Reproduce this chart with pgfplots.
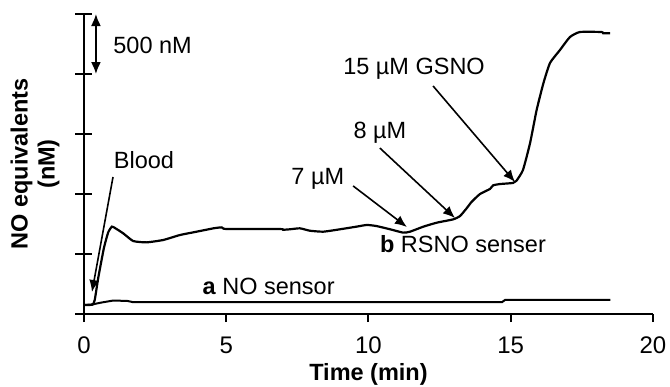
\documentclass[border=0pt]{standalone}
\usepackage{fontspec}
\setmainfont{Liberation Sans}
\usepackage{pgfplots}
\pgfplotsset{compat=1.18}
\usetikzlibrary{arrows.meta}
\pgfplotstableread{
x y
0 75
0.30 78
0.38 120
0.5 300
0.7 550
0.85 680
0.98 728
1.10 715
1.38 672
1.73 608
2.20 597
2.79 617
3.37 658
3.96 686
4.55 714
4.84 722
5.01 708
6.89 708
7.00 702
7.24 706
7.59 714
7.94 694
8.41 686
9.00 706
9.58 728
9.94 742
10.28 733
10.76 706
11.22 678
11.46 686
11.93 728
12.40 761
12.98 789
13.22 817
13.45 881
13.63 936
13.92 1000
14.27 1042
14.38 1072
14.62 1083
15.08 1092
15.20 1110
15.43 1200
15.68 1425
15.91 1700
16.15 1925
16.38 2092
16.73 2200
17.08 2308
17.43 2350
18.20 2350
18.25 2340
18.49 2340
}\rsno
\pgfplotstableread{
x y
0 75
0.30 80
0.60 95
1.00 111
1.50 110
1.70 100
14.70 100
14.80 117
18.50 117
}\nosens
\begin{document}
\begin{tikzpicture}
\path[use as bounding box] (-42pt,-36pt) rectangle (293pt,157pt);
\begin{axis}[
  at={(0pt,0pt)}, anchor=south west,
  scale only axis, width=284.5pt, height=150pt,
  xmin=0, xmax=20, ymin=0, ymax=2500,
  axis lines*=left,
  axis line style={line width=1pt},
  xtick={0,5,10,15,20},
  ymajorticks=false,
  tick align=outside, major tick length=4pt,
  tick style={line width=1pt, black},
  /pgf/number format/assume math mode=true,
  x tick label style={font=\fontsize{12}{14}\selectfont, yshift=-4pt},
  xlabel={\bfseries Time (min)},
  xlabel style={at={(axis description cs:0.5,-0.2)}, anchor=center, font=\fontsize{11.75}{13.5}\selectfont},
  ylabel={NO equivalents\\(nM)},
  ylabel style={at={(axis description cs:-0.086,0.5)}, anchor=center, rotate=0, align=center, font=\fontsize{11.75}{13.5}\selectfont\bfseries},
  clip=false,
]
\pgfplotsinvokeforeach{0,500,1000,1500,2000,2500}{
  \draw[line width=1pt] ([xshift=-4.25pt]axis cs:0,#1) -- ([xshift=4.25pt]axis cs:0,#1);
}
\addplot[black, line width=1.1pt, smooth, tension=0.3] table[x=x,y=y] {\rsno};
\addplot[black, line width=1pt] table[x=x,y=y] {\nosens};
% scale bar
\draw[line width=0.9pt, {Latex[length=6pt,width=5pt]}-{Latex[length=6pt,width=5pt]}] (axis cs:0.42,2500) -- (axis cs:0.42,2000);
\node[anchor=west, font=\fontsize{11.75}{13.5}\selectfont, inner sep=0pt] at (axis cs:1.02,2242) {500 nM};
% annotations
\tikzset{ann/.style={line width=0.8pt, -{Latex[length=6pt,width=5pt]}}}
\node[font=\fontsize{11.75}{13.5}\selectfont, inner sep=0pt] at (axis cs:2.11,1283) {Blood};
\draw[ann] (axis cs:1.02,1142) -- (axis cs:0.28,183);
\node[font=\fontsize{11.75}{13.5}\selectfont, inner sep=0pt] at (axis cs:8.22,1125) {7 µM};
\draw[ann] (axis cs:9.46,1067) -- (axis cs:11.35,725);
\node[font=\fontsize{11.75}{13.5}\selectfont, inner sep=0pt] at (axis cs:10.4,1508) {8 µM};
\draw[ann] (axis cs:10.4,1383) -- (axis cs:13.04,800);
\node[font=\fontsize{11.75}{13.5}\selectfont, inner sep=0pt] at (axis cs:11.6,2042) {15 µM GSNO};
\draw[ann] (axis cs:12.27,1900) -- (axis cs:15.15,1100);
\node[font=\fontsize{11.75}{13.5}\selectfont, inner sep=0pt] at (axis cs:13.32,583) {\textbf{b} RSNO senser};
\node[font=\fontsize{11.75}{13.5}\selectfont, inner sep=0pt] at (axis cs:6.49,233) {\textbf{a} NO sensor};
\end{axis}
\end{tikzpicture}
\end{document}
